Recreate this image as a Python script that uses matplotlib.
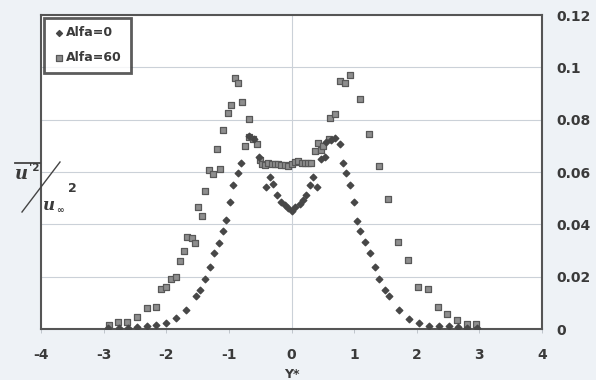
import matplotlib
matplotlib.use("Agg")
import matplotlib.pyplot as plt
import numpy as np

# Alfa=0 (diamonds)
y0_pos = [-2.93, -2.76, -2.61, -2.46, -2.31, -2.16, -2.00, -1.84, -1.69, -1.53,
          -1.46, -1.38, -1.30, -1.23, -1.16, -1.10, -1.04, -0.98, -0.93, -0.86,
          -0.80, -0.68, -0.60, -0.52, -0.40, -0.35, -0.29, -0.23, -0.16, -0.11,
          -0.06, 0.00, 0.06, 0.13, 0.18, 0.23, 0.29, 0.35, 0.40, 0.47,
          0.53, 0.55, 0.63, 0.69, 0.77, 0.82, 0.87, 0.93, 0.99, 1.05,
          1.10, 1.17, 1.25, 1.33, 1.40, 1.49, 1.55, 1.71, 1.87, 2.03,
          2.19, 2.35, 2.51, 2.66, 2.81, 2.96]
u0 = [0.0003, 0.0003, 0.0003, 0.0009, 0.0011, 0.0015, 0.0024, 0.0041, 0.0073, 0.0126,
      0.0149, 0.0191, 0.0236, 0.0289, 0.0330, 0.0376, 0.0415, 0.0484, 0.0551, 0.0595,
      0.0635, 0.0737, 0.0727, 0.0658, 0.0541, 0.0580, 0.0554, 0.0512, 0.0486, 0.0474,
      0.0464, 0.0452, 0.0465, 0.0478, 0.0493, 0.0512, 0.0550, 0.0580, 0.0541, 0.0648,
      0.0658, 0.0716, 0.0722, 0.0731, 0.0707, 0.0636, 0.0595, 0.0551, 0.0484, 0.0414,
      0.0376, 0.0331, 0.0289, 0.0236, 0.0192, 0.0149, 0.0127, 0.0073, 0.0039, 0.0024,
      0.0013, 0.0011, 0.0011, 0.0009, 0.0003, 0.0003]

# Alfa=60 (squares)
y60_pos = [-2.92, -2.77, -2.62, -2.46, -2.31, -2.16, -2.09, -2.01, -1.93, -1.84,
           -1.78, -1.71, -1.67, -1.59, -1.54, -1.50, -1.43, -1.38, -1.31, -1.26,
           -1.14, -1.19, -1.09, -1.02, -0.96, -0.91, -0.85, -0.79, -0.68, -0.74,
           -0.68, -0.62, -0.55, -0.50, -0.47, -0.42, -0.37, -0.31, -0.26, -0.21,
           -0.16, -0.10, -0.05, 0.00, 0.05, 0.10, 0.16, 0.21, 0.26, 0.31,
           0.37, 0.42, 0.47, 0.50, 0.60, 0.61, 0.69, 0.77, 0.85, 0.93,
           1.09, 1.24, 1.39, 1.54, 1.70, 1.86, 2.02, 2.18, 2.34, 2.49,
           2.65, 2.80, 2.95]
u60 = [0.0015, 0.0026, 0.0028, 0.0045, 0.0079, 0.0085, 0.0152, 0.0162, 0.0190, 0.0200,
       0.0259, 0.0297, 0.0353, 0.0349, 0.0327, 0.0465, 0.0433, 0.0529, 0.0608, 0.0591,
       0.0611, 0.0687, 0.0760, 0.0824, 0.0855, 0.0960, 0.0940, 0.0866, 0.0804, 0.0700,
       0.0735, 0.0726, 0.0707, 0.0646, 0.0632, 0.0628, 0.0634, 0.0632, 0.0630, 0.0630,
       0.0628, 0.0626, 0.0622, 0.0630, 0.0640, 0.0642, 0.0634, 0.0636, 0.0633, 0.0633,
       0.0680, 0.0712, 0.0684, 0.0700, 0.0725, 0.0805, 0.0820, 0.0949, 0.0939, 0.0970,
       0.0880, 0.0745, 0.0623, 0.0495, 0.0331, 0.0262, 0.0162, 0.0152, 0.0083, 0.0057,
       0.0034, 0.0019, 0.0019]

x_ticks = [-4, -3, -2, -1, 0, 1, 2, 3, 4]
y_ticks = [0, 0.02, 0.04, 0.06, 0.08, 0.1, 0.12]
y_labels = ["0", "0.02", "0.04", "0.06", "0.08", "0.1", "0.12"]

txt = "#3a3a3a"
fig = plt.figure(figsize=(5.96, 3.8), dpi=100, facecolor="#eef2f6")
ax = fig.add_axes([0.0688, 0.1342, 0.8406, 0.8263])
ax.set_facecolor("white")

for yv in y_ticks[1:-1]:
    ax.axhline(yv, color="#cbd1d8", lw=0.8, zorder=0)
ax.axvline(0, color="#cbd1d8", lw=0.8, zorder=0)

ax.scatter(y0_pos, u0, marker="D", s=11, color="#474747", label="Alfa=0", zorder=3)
ax.scatter(y60_pos, u60, marker="s", s=20, facecolor="#8e8e8e", edgecolor="#585858",
           linewidth=0.9, label="Alfa=60", zorder=2)

ax.set_xlim(-4, 4)
ax.set_ylim(0, 0.12)
ax.set_xticks(x_ticks)
ax.set_xticklabels([str(v) for v in x_ticks])
ax.set_yticks(y_ticks)
ax.set_yticklabels(y_labels)
ax.yaxis.tick_right()
ax.tick_params(axis="y", length=0, pad=10, labelsize=10, colors=txt)
ax.tick_params(axis="x", length=3, width=0.6, pad=11, labelsize=10, labelcolor=txt,
               color="#b8bec6", direction="out")
for lab in ax.get_xticklabels() + ax.get_yticklabels():
    lab.set_fontweight("bold")
for sp in ax.spines.values():
    sp.set_color("#555555")
    sp.set_linewidth(1.5)

ax.set_xlabel("Y*", fontsize=9, fontweight="bold", color=txt, labelpad=4)

leg = ax.legend(loc="upper left", bbox_to_anchor=(0.0, 1.0), frameon=True, fancybox=False,
                fontsize=9, handletextpad=0.1, borderpad=0.7, labelspacing=0.95,
                handlelength=1.0, borderaxespad=0.2, markerscale=0.9)
leg.get_frame().set_edgecolor("#333333")
leg.get_frame().set_linewidth(2.0)
for t in leg.get_texts():
    t.set_fontweight("bold")
    t.set_color(txt)

# hand-made y label: u'^2 / u_inf^2
fig.add_artist(plt.Line2D([15/596, 40/596], [1-163/380, 1-163/380], color="#444444", lw=1.3))
fig.add_artist(plt.Line2D([22/596, 60/596], [1-212/380, 1-162/380], color="#444444", lw=1.0))
fig.text(15/596, 1-174/380, "u", fontsize=13, fontweight="bold", style="italic",
         family="DejaVu Serif", color=txt, ha="left", va="center")
fig.text(29/596, 1-168/380, "'2", fontsize=7.5, fontweight="bold", color=txt,
         ha="left", va="center")
fig.text(43/596, 1-205/380, "u", fontsize=12, fontweight="bold", style="italic",
         family="DejaVu Serif", color=txt, ha="left", va="center")
fig.text(56/596, 1-211/380, "∞", fontsize=6.5, fontweight="bold", color=txt,
         ha="left", va="center")
fig.text(68/596, 1-189/380, "2", fontsize=9, fontweight="bold", color=txt,
         ha="left", va="center")

fig.savefig("out.png", dpi=100, facecolor=fig.get_facecolor())
